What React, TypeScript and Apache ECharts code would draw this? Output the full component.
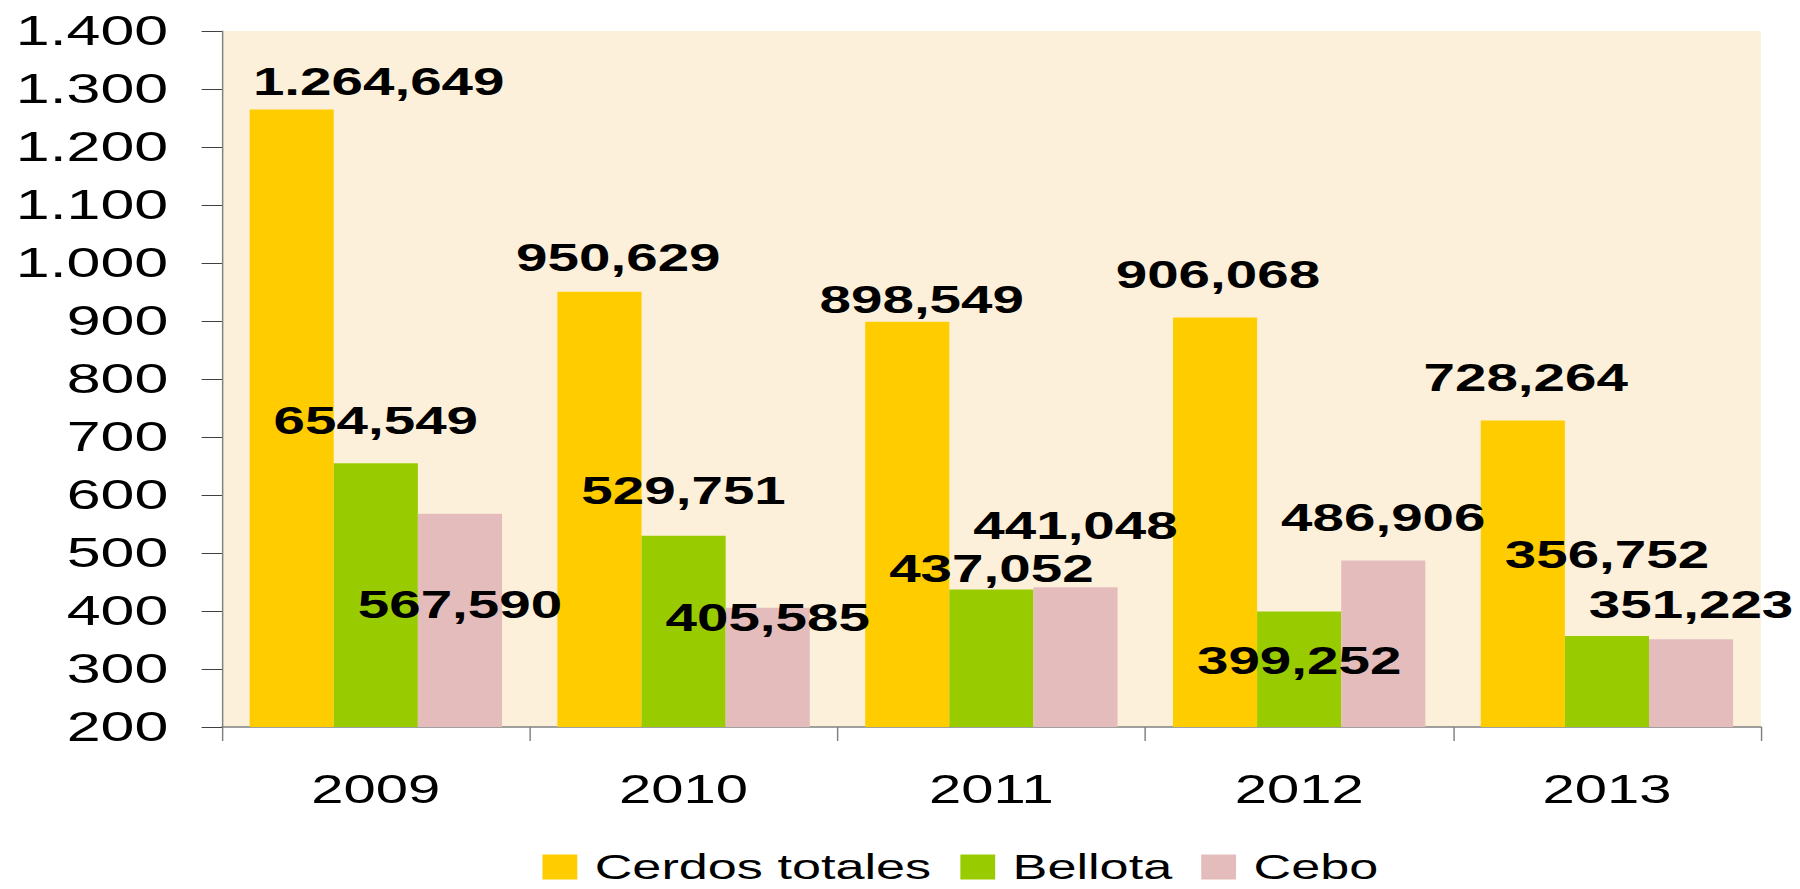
import React, { useEffect, useRef } from "react";
import * as echarts from "echarts";

const years = ["2009", "2010", "2011", "2012", "2013"];
const cerdosTotales = [1264.649, 950.629, 898.549, 906.068, 728.264];
const bellota = [654.549, 529.751, 437.052, 399.252, 356.752];
const cebo = [567.59, 405.585, 441.048, 486.906, 351.223];

// label nudges [dx, dy] per bar, in px (relative to default "top" placement)
const cerdosLabelOffsets = [[60, 15], [13, 9], [10, 21], [2, 0], [2, 0]];
const bellotaLabelOffsets = [[0, 0], [0, -2], [0, 22], [0, 92], [0, -38]];
const ceboLabelOffsets = [[0, 134], [0, 53], [0, -18], [0, 0], [0, 9]];

const FONT = "'Liberation Sans', Arial, sans-serif";
const STRETCH = 1.45;
const W = Math.round(1800 / STRETCH);
const H = 889;

const thousands = (s: string) => s.replace(/\B(?=(\d{3})+(?!\d))/g, ".");
const fmtValue = (v: number) => {
  const [i, d] = v.toFixed(3).split(".");
  return thousands(i) + "," + d;
};

const buildData = (vals: number[], offs: number[][]) =>
  vals.map((v, k) => ({ value: v, label: { offset: offs[k] } }));

export default function App() {
  const ref = useRef<HTMLDivElement>(null);
  useEffect(() => {
    if (!ref.current) return;
    const chart = echarts.init(ref.current, undefined, { renderer: "svg" });
    const labelStyle = {
      show: true,
      position: "top" as const,
      distance: 24,
      fontFamily: FONT,
      fontWeight: "bold" as const,
      fontSize: 39,
      color: "#000",
      formatter: (p: any) => fmtValue(p.value),
    };
    chart.setOption({
      animation: false,
      backgroundColor: "#ffffff",
      textStyle: { fontFamily: FONT },
      grid: {
        left: 153,
        right: W - 1214,
        top: 31,
        bottom: 162,
        show: true,
        backgroundColor: "#FDF0DA",
        borderWidth: 0,
      },
      legend: {
        left: 374,
        top: 849,
        icon: "rect",
        itemWidth: 24,
        itemHeight: 25,
        itemGap: 20,
        padding: 0,
        textStyle: {
          fontSize: 36,
          lineHeight: 30,
          color: "#000",
          fontWeight: "normal",
          fontFamily: FONT,
          padding: [0, 0, 0, 7],
        },
        data: ["Cerdos totales", "Bellota", "Cebo"],
      },
      xAxis: {
        type: "category",
        data: years,
        axisLine: { show: true, lineStyle: { color: "#808080", width: 1.5 } },
        axisTick: { show: true, length: 14, lineStyle: { color: "#808080" } },
        axisLabel: { fontSize: 40, color: "#000", margin: 42, fontFamily: FONT },
        splitLine: { show: false },
      },
      yAxis: {
        type: "value",
        min: 200,
        max: 1400,
        interval: 100,
        axisLine: { show: true, lineStyle: { color: "#808080", width: 1 } },
        axisTick: { show: true, length: 14, lineStyle: { color: "#404040" } },
        axisLabel: {
          fontSize: 42,
          color: "#000",
          margin: 37,
          fontFamily: FONT,
          formatter: (v: number) => thousands(String(v)),
        },
        splitLine: { show: false },
      },
      series: [
        {
          name: "Cerdos totales",
          type: "bar",
          data: buildData(cerdosTotales, cerdosLabelOffsets),
          itemStyle: { color: "#FFCC00" },
          barGap: "0%",
          barCategoryGap: "18%",
          label: labelStyle,
        },
        {
          name: "Bellota",
          type: "bar",
          data: buildData(bellota, bellotaLabelOffsets),
          itemStyle: { color: "#99CC00" },
          barGap: "0%",
          barCategoryGap: "18%",
          label: labelStyle,
        },
        {
          name: "Cebo",
          type: "bar",
          data: buildData(cebo, ceboLabelOffsets),
          itemStyle: { color: "#E5BCBC" },
          barGap: "0%",
          barCategoryGap: "18%",
          label: labelStyle,
        },
      ],
    });
    return () => chart.dispose();
  }, []);
  return (
    <div
      style={{
        position: "fixed",
        left: 0,
        top: 0,
        width: 1800,
        height: H,
        overflow: "hidden",
        background: "#fff",
      }}
    >
      <div
        ref={ref}
        style={{
          width: W,
          height: H,
          transform: `scaleX(${1800 / W})`,
          transformOrigin: "0 0",
        }}
      />
    </div>
  );
}
